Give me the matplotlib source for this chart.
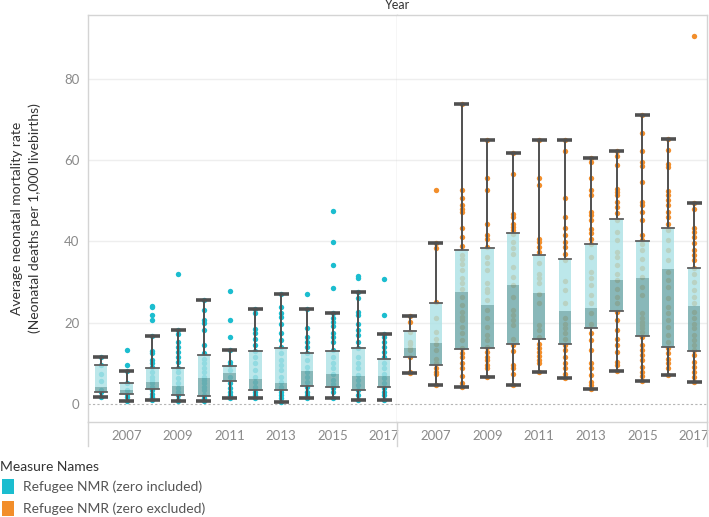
import matplotlib
matplotlib.use("Agg")
import matplotlib.pyplot as plt
from matplotlib.patches import Rectangle
from matplotlib.lines import Line2D

plt.rcParams['font.family'] = ['Lato', 'DejaVu Sans']

years = list(range(2006, 2018))
tick_years = [2007, 2009, 2011, 2013, 2015, 2017]
series_names = ["Refugee NMR (zero included)", "Refugee NMR (zero excluded)"]
series_colors = ["#1bbdcf", "#f28e2b"]

# ---- zero included: individual points per year ----
inc_points = [
    [11.6, 9.6, 7.3, 5.6, 3.4, 2.9, 1.8],
    [13.3, 9.5, 8.2, 5.2, 3.4, 2.6, 1.8, 0.8],
    [24.1, 23.8, 22.0, 20.8, 16.7, 13.0, 12.5, 10.8, 10.2, 9.2, 8.0, 6.7, 5.9, 5.1, 4.3, 3.4, 2.6, 1.8, 1.1],
    [32.0, 18.2, 17.2, 15.3, 14.1, 12.9, 11.6, 10.4, 9.0, 8.0, 6.3, 5.1, 3.9, 3.0, 2.2, 1.1, 0.8],
    [25.6, 23.1, 20.8, 20.0, 18.2, 14.5, 12.5, 11.2, 10.0, 8.8, 8.0, 6.7, 5.9, 5.1, 4.3, 3.4, 2.2, 1.4, 0.8],
    [27.8, 20.8, 16.4, 13.3, 10.4, 9.6, 8.4, 6.7, 5.1, 3.9, 3.0, 2.2, 1.4],
    [23.3, 22.3, 18.4, 17.4, 15.9, 14.5, 13.1, 11.6, 10.0, 8.4, 6.7, 5.5, 4.3, 3.0, 2.2, 1.4],
    [27.0, 23.9, 22.3, 21.5, 19.8, 17.4, 15.7, 14.1, 12.5, 10.8, 9.6, 8.4, 6.7, 5.5, 4.3, 3.0, 2.2, 1.4, 0.6],
    [27.2, 23.3, 18.6, 16.4, 15.3, 14.1, 12.6, 10.8, 9.2, 8.0, 6.7, 5.5, 4.3, 3.0, 2.2, 1.4],
    [47.5, 39.9, 34.3, 28.6, 22.5, 21.1, 20.2, 19.2, 17.4, 16.4, 15.3, 13.3, 11.6, 10.0, 8.8, 7.5, 5.9, 4.9, 3.9, 3.0, 1.6],
    [31.5, 31.1, 27.6, 26.0, 22.7, 21.9, 19.8, 18.2, 17.0, 15.3, 13.7, 11.6, 10.0, 8.8, 7.1, 5.9, 4.7, 3.4, 2.2, 1.0],
    [30.7, 22.0, 17.2, 16.4, 15.3, 14.1, 12.9, 11.6, 10.0, 8.8, 7.5, 6.3, 5.1, 3.9, 3.0, 2.2, 1.1],
]
inc_lo = [1.8, 0.8, 1.1, 0.8, 0.8, 1.4, 1.4, 0.6, 1.4, 1.6, 1.0, 1.1]
inc_q1 = [2.9, 2.5, 3.6, 2.2, 2.0, 5.7, 3.4, 3.4, 4.4, 4.1, 3.4, 4.3]
inc_med = [4.1, 3.4, 5.5, 4.4, 6.3, 7.7, 6.1, 5.2, 8.2, 7.4, 6.9, 6.9]
inc_q3 = [9.6, 5.1, 8.8, 8.8, 12.0, 9.3, 13.1, 13.9, 12.6, 13.1, 13.7, 11.0]
inc_hi = [11.6, 8.2, 16.7, 18.2, 25.6, 13.3, 23.3, 27.0, 23.3, 22.5, 27.6, 17.2]

# ---- zero excluded ----
exc_points = [
    [21.6, 20.1, 17.8, 15.3, 14.8, 13.7, 13.3, 11.5, 8.0, 7.7],
    [52.6, 39.7, 38.3, 25.2, 21.1, 17.8, 16.1, 14.9, 13.3, 11.2, 10.0, 8.8, 8.0, 7.4, 4.7],
    [73.9, 52.6, 50.8, 48.9, 48.1, 47.3, 43.4, 41.1, 38.9, 36.6, 35.6, 34.4, 33.1, 30.9, 29.7, 28.4, 26.4,
     24.3, 22.7, 21.5, 20.7, 19.0, 17.4, 15.7, 13.7, 12.5, 11.5, 10.2, 8.8, 6.9, 5.1, 4.2],
    [64.9, 55.5, 52.6, 44.3, 41.6, 40.7, 38.7, 36.2, 34.6, 33.0, 29.7, 28.4, 27.6, 25.6, 23.1, 21.1, 19.0,
     17.0, 15.7, 14.1, 12.9, 11.6, 10.8, 9.6, 8.8, 6.6],
    [61.8, 56.6, 46.7, 46.1, 44.3, 43.6, 42.8, 41.8, 39.9, 38.5, 37.0, 33.8, 31.3, 29.3, 26.4, 23.1, 21.9,
     20.8, 19.4, 15.9, 14.5, 13.1, 9.6, 8.8, 7.5, 4.8],
    [64.9, 55.5, 53.9, 40.7, 39.9, 38.7, 37.5, 34.6, 32.1, 30.9, 29.7, 27.2, 24.8, 19.4, 18.2, 16.6, 14.9,
     13.7, 12.9, 11.8, 10.8, 10.0, 8.0],
    [64.9, 62.3, 50.6, 46.1, 43.2, 41.6, 39.9, 38.7, 37.0, 35.4, 30.3, 28.0, 24.8, 21.1, 19.8, 18.6, 17.4,
     15.9, 14.5, 13.3, 11.5, 10.0, 8.8, 7.5, 6.4],
    [60.5, 59.6, 55.5, 52.6, 51.4, 47.3, 46.5, 45.4, 43.0, 42.0, 40.7, 39.5, 36.2, 32.5, 30.9, 29.3, 26.8,
     24.8, 22.3, 19.8, 17.4, 15.7, 13.3, 10.0, 8.8, 7.1, 5.5, 4.7, 3.8],
    [62.3, 61.0, 58.8, 53.0, 52.2, 51.4, 49.8, 48.5, 46.9, 45.4, 42.4, 40.3, 37.5, 36.2, 34.2, 32.1, 30.5,
     28.4, 26.4, 24.8, 22.7, 20.7, 18.2, 16.1, 14.5, 12.9, 10.4, 9.6, 8.2],
    [71.1, 66.6, 62.3, 59.6, 58.5, 54.7, 49.8, 48.9, 47.3, 45.4, 41.6, 40.3, 39.3, 37.9, 35.8, 33.4, 31.3,
     28.9, 26.8, 22.3, 21.1, 20.2, 19.4, 18.6, 17.8, 16.6, 14.5, 13.3, 12.0, 10.8, 9.2, 8.0, 6.9, 5.6],
    [65.3, 62.5, 59.0, 58.4, 52.5, 51.4, 50.2, 48.9, 47.3, 45.9, 44.4, 42.8, 40.3, 37.9, 35.4, 32.5, 30.5,
     28.9, 26.0, 23.9, 22.3, 20.7, 19.0, 17.0, 15.3, 13.7, 12.5, 11.2, 10.0, 8.8, 7.1],
    [90.6, 49.5, 47.9, 43.4, 42.4, 41.1, 39.7, 37.9, 36.6, 35.4, 33.4, 32.1, 30.1, 28.0, 26.4, 24.8, 22.7,
     21.1, 19.8, 18.6, 17.0, 15.7, 14.5, 13.3, 12.0, 10.4, 9.2, 8.0, 6.7, 5.5],
]
exc_lo = [7.7, 4.7, 4.2, 6.6, 4.8, 8.0, 6.4, 3.8, 8.2, 5.6, 7.1, 5.5]
exc_q1 = [11.5, 9.7, 13.6, 13.9, 14.8, 16.0, 14.8, 18.6, 22.8, 16.8, 14.1, 13.1]
exc_med = [13.7, 15.1, 27.6, 24.3, 29.3, 27.4, 22.9, 23.7, 30.5, 31.1, 33.3, 24.1]
exc_q3 = [17.9, 24.8, 38.0, 38.5, 42.0, 36.6, 35.8, 39.3, 45.6, 40.1, 43.2, 33.4]
exc_hi = [21.7, 39.7, 73.9, 64.9, 61.8, 64.9, 64.9, 60.5, 62.3, 71.1, 65.3, 49.5]

W, H = 709, 517
fig = plt.figure(figsize=(W / 100, H / 100), dpi=100)

ax_top, ax_bot = 15, 422
left_x0, mid_x, right_x1 = 88, 397, 707

def px_rect(x0, x1):
    return [x0 / W, 1 - ax_bot / H, (x1 - x0) / W, (ax_bot - ax_top) / H]

axL = fig.add_axes(px_rect(left_x0, mid_x))
axR = fig.add_axes(px_rect(mid_x, right_x1))

box_light = "#ade2e6"
box_dark = "#74acad"
edge_col = "#d4d4d4"
whisk_col = "#505050"

def draw_panel(ax, points, lo, q1, med, q3, hi, color):
    ax.set_xlim(-0.5, len(years) - 0.5)
    ax.set_ylim(-4.4, 95.7)
    for v in [20, 40, 60, 80]:
        ax.axhline(v, color="#eeeeee", lw=1, zorder=0)
    ax.axhline(0, color="#b5b5b5", lw=0.8, ls=(0, (2, 2)), zorder=1)
    for i, pts in enumerate(points):
        ax.scatter([i] * len(pts), pts, s=15, color=color, linewidths=0, zorder=2)
        bw, cw = 0.48, 0.58
        ax.plot([i, i], [q3[i], hi[i]], color=whisk_col, lw=1.4, zorder=3)
        ax.plot([i, i], [lo[i], q1[i]], color=whisk_col, lw=1.4, zorder=3)
        ax.plot([i - cw / 2, i + cw / 2], [hi[i], hi[i]], color=whisk_col, lw=2.6, zorder=3,
                solid_capstyle="butt")
        ax.plot([i - cw / 2, i + cw / 2], [lo[i], lo[i]], color=whisk_col, lw=2.6, zorder=3,
                solid_capstyle="butt")
        ax.add_patch(Rectangle((i - bw / 2, med[i]), bw, q3[i] - med[i], facecolor=box_light,
                               edgecolor="none", alpha=0.82, zorder=4))
        ax.add_patch(Rectangle((i - bw / 2, q1[i]), bw, med[i] - q1[i], facecolor=box_dark,
                               edgecolor="none", alpha=0.85, zorder=4))
        ax.plot([i - bw / 2, i + bw / 2], [q3[i], q3[i]], color="#5e5e5e", lw=1.3, zorder=5)
        ax.plot([i - bw / 2, i + bw / 2], [q1[i], q1[i]], color="#5e5e5e", lw=1.3, zorder=5)
    ax.set_xticks([years.index(y) for y in tick_years])
    ax.set_xticklabels([str(y) for y in tick_years])
    ax.tick_params(axis="x", length=0, colors="#8a8a8a", labelsize=9.5, pad=6)
    for s in ax.spines.values():
        s.set_color(edge_col)
        s.set_linewidth(1)

draw_panel(axL, inc_points, inc_lo, inc_q1, inc_med, inc_q3, inc_hi, series_colors[0])
draw_panel(axR, exc_points, exc_lo, exc_q1, exc_med, exc_q3, exc_hi, series_colors[1])

axL.set_yticks([0, 20, 40, 60, 80])
axL.tick_params(axis="y", length=0, colors="#8a8a8a", labelsize=9.5, pad=6)
axR.set_yticks([0, 20, 40, 60, 80])
axR.tick_params(axis="y", length=0, labelleft=False)
axR.spines["left"].set_visible(False)

axL.set_ylabel("Average neonatal mortality rate\n(Neonatal deaths per 1,000 livebirths)",
               fontsize=10, color="#333333", labelpad=17, linespacing=1.5)

# vertical separators extending into label band
for xp in [left_x0, mid_x, right_x1]:
    fig.add_artist(Line2D([xp / W, xp / W], [1 - ax_bot / H, 1 - 446 / H], color=edge_col, lw=1))

fig.text(mid_x / W, 1 - 5 / H, "Year", ha="center", va="center", fontsize=9, color="#333333")

# legend
fig.text(0 / W, 1 - 467 / H, "Measure Names", ha="left", va="center", fontsize=10, color="#333333")
for k, (name, col) in enumerate(zip(series_names, series_colors)):
    yc = 486 + k * 22
    fig.add_artist(Rectangle((2 / W, 1 - (yc + 8) / H), 12 / W, 15 / H, facecolor=col,
                             edgecolor="none", transform=fig.transFigure))
    fig.text(23 / W, 1 - (yc + 1) / H, name, ha="left", va="center", fontsize=10, color="#555555")

fig.savefig("out.png", dpi=100)
